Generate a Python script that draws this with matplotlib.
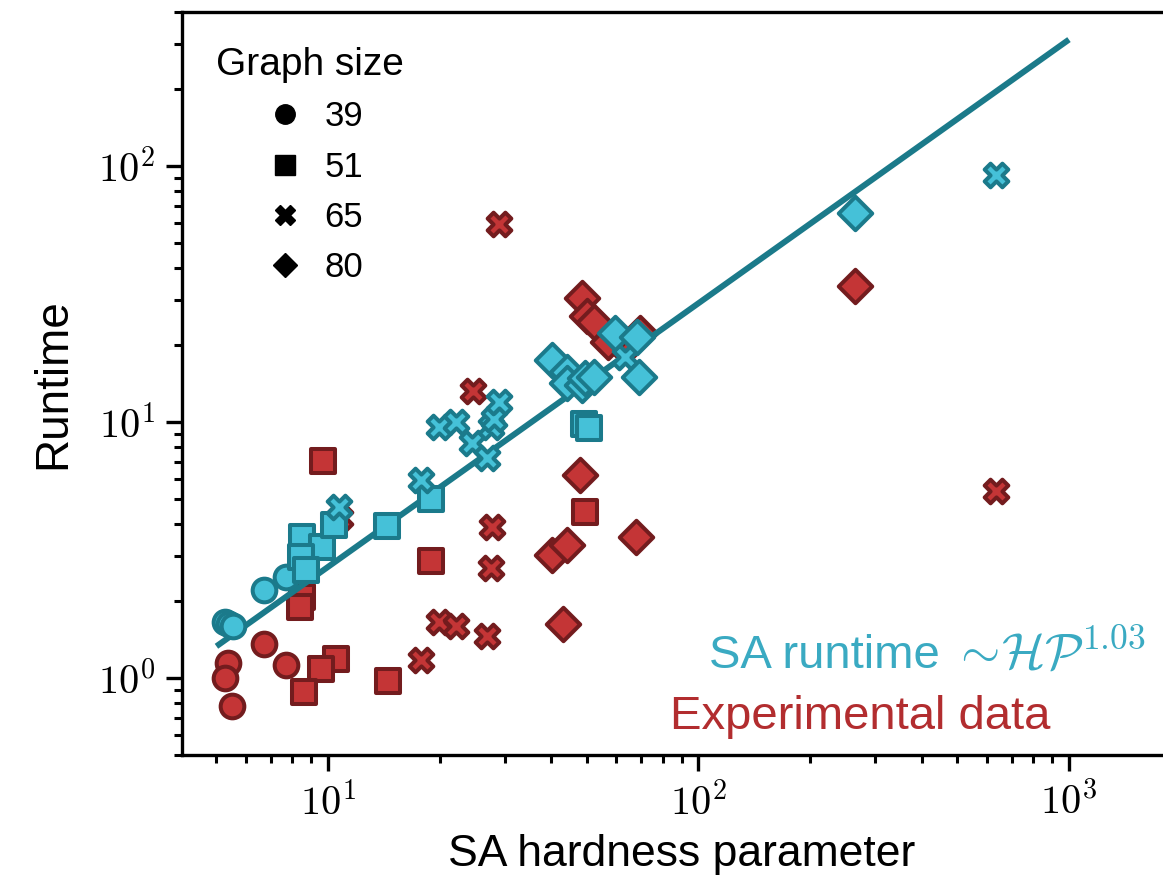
import numpy as np
import matplotlib
matplotlib.use("Agg")
import matplotlib.pyplot as plt
from matplotlib.lines import Line2D
from matplotlib.ticker import FixedLocator, FuncFormatter, LogLocator, NullFormatter

# ---------------- data ----------------
sa_x_39 = [5.28, 5.40, 5.55, 6.72, 7.69]
sa_y_39 = [1.66, 1.62, 1.60, 2.21, 2.49]
exp_x_39 = [5.37, 5.28, 5.50, 6.72, 7.69]
exp_y_39 = [1.14, 1.00, 0.78, 1.36, 1.12]

sa_x_51 = [8.53, 9.66, 8.44, 8.7, 10.4, 14.4, 19.0, 49.0, 50.5]
sa_y_51 = [3.56, 3.26, 2.98, 2.64, 3.96, 3.92, 5.0, 9.8, 9.5]
exp_x_51 = [9.7, 8.5, 8.4, 10.5, 9.56, 8.6, 14.5, 19.0, 49.3]
exp_y_51 = [7.04, 2.08, 1.9, 1.19, 1.08, 0.884, 0.973, 2.86, 4.45]

sa_x_65 = [10.7, 17.8, 19.9, 22.1, 24.5, 26.8, 27.6, 28.0, 28.9, 63.5, 635]
sa_y_65 = [4.67, 5.93, 9.59, 10.0, 8.26, 7.21, 9.59, 10.3, 12.0, 17.9, 92.2]
exp_x_65 = [10.8, 17.8, 19.9, 22.1, 24.6, 26.8, 27.6, 27.7, 28.9, 63.5, 635]
exp_y_65 = [4.2, 1.18, 1.66, 1.59, 13.2, 1.46, 2.68, 3.9, 59.3, 19.6, 5.36]

sa_x_80 = [40.3, 44.2, 44.2, 48.4, 49.5, 52.1, 59.6, 68.2, 68.9, 264]
sa_y_80 = [17.5, 15.7, 14.2, 13.9, 14.8, 15.0, 22.2, 21.5, 15.0, 65.3]
exp_x_80 = [40.3, 43.0, 44.2, 47.8, 48.4, 50.0, 52.1, 57.0, 67.8, 69.5, 264]
exp_y_80 = [3.02, 1.63, 3.31, 6.21, 30.4, 26.0, 24.6, 20.5, 3.56, 22.2, 34.0]

graph_sizes = ["39", "51", "65", "80"]
fit_x = [5.0, 1000.0]
fit_y = [1.33, 312.0]

# ---------------- style ----------------
plt.rcParams['font.family'] = ['Liberation Sans', 'DejaVu Sans']
plt.rcParams['mathtext.fontset'] = 'cm'

SA_FILL, SA_EDGE = '#45C1D8', '#1B7A8B'
EX_FILL, EX_EDGE = '#C43536', '#731C1E'
LINE_C = '#1B7A8A'

fig = plt.figure(figsize=(11.63, 8.93), dpi=100)
ax = fig.add_axes([0.1565, 0.1545, 0.8598, 0.8321])
ax.set_xscale('log')
ax.set_yscale('log')

markers = ['o', 's', 'X', 'D']
S = 290
LW = 2.9
exp_sets = [(exp_x_39, exp_y_39), (exp_x_51, exp_y_51), (exp_x_65, exp_y_65), (exp_x_80, exp_y_80)]
sa_sets = [(sa_x_39, sa_y_39), (sa_x_51, sa_y_51), (sa_x_65, sa_y_65), (sa_x_80, sa_y_80)]

for m, (xs, ys) in zip(markers, exp_sets):
    ax.scatter(xs, ys, s=S, marker=m, facecolor=EX_FILL, edgecolor=EX_EDGE, linewidths=LW, zorder=2)

ax.plot(fit_x, fit_y, color=LINE_C, lw=4.3, zorder=3, solid_capstyle='butt')

for m, (xs, ys) in zip(markers, sa_sets):
    ax.scatter(xs, ys, s=S, marker=m, facecolor=SA_FILL, edgecolor=SA_EDGE, linewidths=LW, zorder=4)

ax.set_xlim(10**0.606, 10**3.305)
ax.set_ylim(0.5, 400)

fmt = FuncFormatter(lambda v, pos: r'$10^{%d}$' % int(round(np.log10(v))))
ax.xaxis.set_major_locator(FixedLocator([10, 100, 1000]))
ax.yaxis.set_major_locator(FixedLocator([1, 10, 100]))
ax.xaxis.set_major_formatter(fmt)
ax.yaxis.set_major_formatter(fmt)
ax.xaxis.set_minor_locator(LogLocator(base=10, subs=np.arange(2, 10), numticks=20))
ax.yaxis.set_minor_locator(LogLocator(base=10, subs=np.arange(2, 10), numticks=20))
ax.xaxis.set_minor_formatter(NullFormatter())
ax.yaxis.set_minor_formatter(NullFormatter())

ax.tick_params(which='major', length=11.5, width=2.4, labelsize=29, pad=8, direction='out')
ax.tick_params(which='minor', length=6, width=2.2, direction='out')
for sp in ['left', 'bottom', 'top']:
    ax.spines[sp].set_linewidth(2.4)
ax.spines['right'].set_visible(False)

ax.set_xlabel('SA hardness parameter', fontsize=32, labelpad=8)
ax.set_ylabel('Runtime', fontsize=33, labelpad=16)

# legend for graph sizes
handles = [Line2D([], [], linestyle='none', marker=m, color='black', markersize=14 if m != 'D' else 12)
           for m in markers]
leg = ax.legend(handles, graph_sizes, title='Graph size', loc='upper left',
                bbox_to_anchor=(0.003, 0.995), frameon=False, fontsize=25, title_fontsize=28,
                handletextpad=0.35, labelspacing=0.5, handlelength=1.6)

# annotations
ax.text(709 / 1163, 1 - 668 / 893, 'SA runtime', transform=fig.transFigure,
        fontsize=34, color='#3AAAC2', ha='left', va='baseline')
ax.text(952 / 1163, 1 - 668 / 893, r'$\sim\!\mathcal{HP}^{1.03}$', transform=fig.transFigure,
        fontsize=36.5, color='#3AAAC2', ha='left', va='baseline')
ax.text(670 / 1163, 1 - 729 / 893, 'Experimental data', transform=fig.transFigure,
        fontsize=34, color='#B22D2F', ha='left', va='baseline')

fig.savefig('out.png', dpi=100)
